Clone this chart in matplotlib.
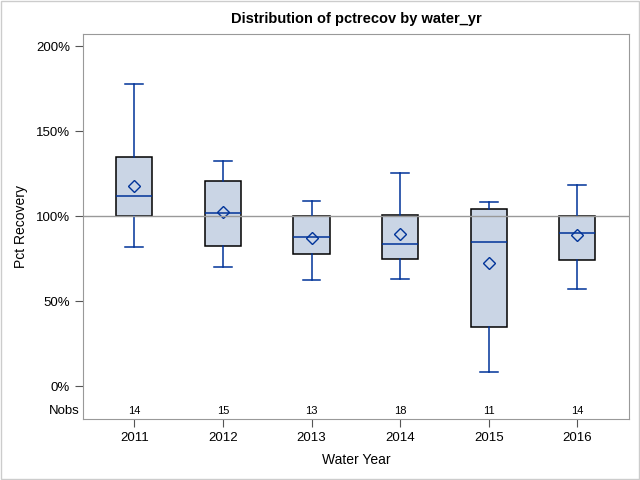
import numpy as np
import matplotlib.pyplot as plt
from matplotlib.patches import Rectangle

plt.rcParams['font.family'] = ['Liberation Sans', 'DejaVu Sans']

years = ['2011', '2012', '2013', '2014', '2015', '2016']
nobs = [14, 15, 13, 18, 11, 14]
# percent recovery stats
whislo = [82, 70, 62.5, 63, 8.5, 57]
q1 = [100, 82.5, 77.6, 74.7, 34.7, 74]
med = [111.5, 101.8, 87.6, 83.6, 84.6, 90]
mean = [117.7, 102.3, 87, 89.4, 72.4, 88.6]
q3 = [134.5, 120.7, 100, 100.8, 104.2, 100]
whishi = [177.5, 132.5, 108.7, 125.5, 108.3, 118.3]

blue = '#003399'
fill = '#CAD5E5'
grey = '#999999'

stats = []
for i in range(len(years)):
    stats.append({'whislo': whislo[i], 'q1': q1[i], 'med': med[i], 'mean': mean[i],
                  'q3': q3[i], 'whishi': whishi[i], 'fliers': [], 'label': years[i]})

fig = plt.figure(figsize=(6.4, 4.8), dpi=100)
fig.patches.append(Rectangle((0.002, 0.002), 0.996, 0.996, transform=fig.transFigure,
                             fill=False, edgecolor='#cccccc', lw=1))
ax = fig.add_axes([83.3/640, 61/480, 545.4/640, 384.7/480])

pos = np.arange(len(years))
ax.bxp(stats, positions=pos, widths=0.41, patch_artist=True, showmeans=True,
       boxprops=dict(facecolor=fill, edgecolor='black', lw=1.1),
       whiskerprops=dict(color=blue, lw=1.1),
       capprops=dict(color=blue, lw=1.1),
       medianprops=dict(color=blue, lw=1.1),
       meanprops=dict(marker='D', markerfacecolor='none', markeredgecolor=blue,
                      markersize=6.5, markeredgewidth=1.0),
       capwidths=0.2)

ax.axhline(100, color=grey, lw=1, zorder=5)

ax.set_xlim(-0.576, 5.58)
ax.set_ylim(-19.4, 206.9)
ax.set_yticks([0, 50, 100, 150, 200])
ax.set_yticklabels([f'{v}%' for v in [0, 50, 100, 150, 200]])
ax.set_xticks(pos)
ax.set_xticklabels(years)

for s in ax.spines.values():
    s.set_color(grey)
ax.tick_params(colors='#555555', labelcolor='black', labelsize=9.5, length=6, width=0.8)

for i, n in enumerate(nobs):
    ax.text(pos[i], -14.7, str(n), ha='center', va='center', fontsize=8)
ax.annotate('Nobs', xy=(0, -14.7), xycoords=('axes fraction', 'data'),
            xytext=(-3, 0), textcoords='offset points', ha='right', va='center', fontsize=9.5)

ax.set_title('Distribution of pctrecov by water_yr', fontweight='bold', fontsize=10.5, pad=8)
ax.set_xlabel('Water Year', fontsize=10, labelpad=6)
ax.set_ylabel('Pct Recovery', fontsize=10, labelpad=6)

fig.savefig('out.png', dpi=100)
